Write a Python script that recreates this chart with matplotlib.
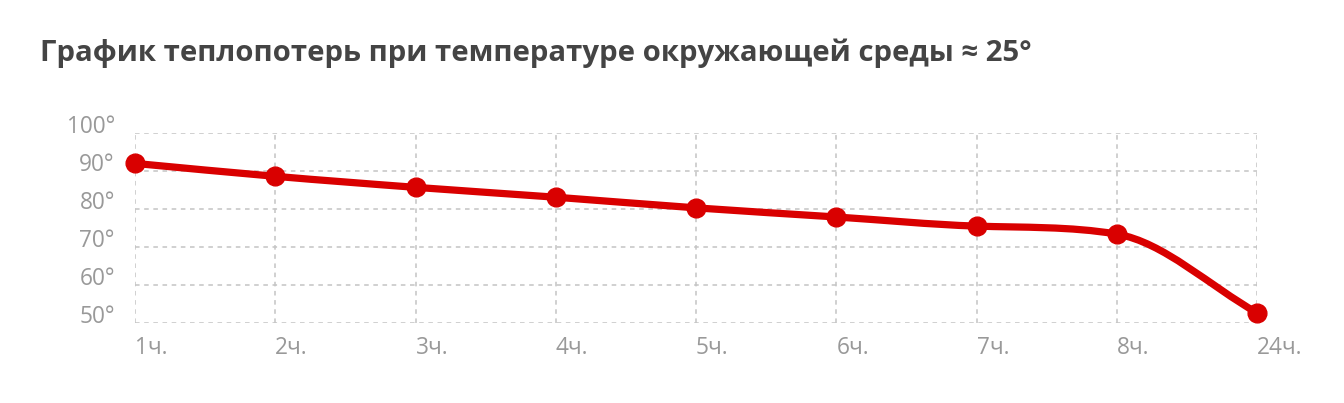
import numpy as np
import matplotlib.pyplot as plt
from matplotlib.path import Path
from matplotlib.patches import PathPatch

# Data
hours = ["1ч.", "2ч.", "3ч.", "4ч.", "5ч.", "6ч.", "7ч.", "8ч.", "24ч."]
temps = [92.0, 88.6, 85.7, 83.1, 80.3, 77.9, 75.5, 73.4, 52.7]
y_ticks = [50, 60, 70, 80, 90, 100]
title = "График теплопотерь при температуре окружающей среды ≈ 25°"

RED = "#d90000"
GRID = "#c4c4c4"
TICK = "#999999"


def monotone_path(ax, xs, ys):
    """Monotone cubic (Fritsch-Carlson) bezier through points, in pixel space"""
    pts = ax.transData.transform(np.column_stack([xs, ys]))
    px, py = pts[:, 0], pts[:, 1]
    n = len(pts)
    dx = np.diff(px)
    delta = np.diff(py) / dx
    m = np.zeros(n)
    m[0], m[-1] = delta[0], delta[-1]
    for i in range(1, n - 1):
        m[i] = 0 if delta[i - 1] * delta[i] <= 0 else (delta[i - 1] + delta[i]) / 2
    for i in range(n - 1):
        if delta[i] == 0:
            m[i] = m[i + 1] = 0
            continue
        a, b = m[i] / delta[i], m[i + 1] / delta[i]
        s = a * a + b * b
        if s > 9:
            t = 3 / np.sqrt(s)
            m[i], m[i + 1] = t * a * delta[i], t * b * delta[i]
    verts = [pts[0]]
    codes = [Path.MOVETO]
    for i in range(n - 1):
        h = dx[i] / 3
        verts += [(px[i] + h, py[i] + m[i] * h), (px[i + 1] - h, py[i + 1] - m[i + 1] * h), pts[i + 1]]
        codes += [Path.CURVE4] * 3
    inv = ax.transData.inverted()
    return Path(inv.transform(np.array(verts)), codes)


plt.rcParams['font.family'] = ['Open Sans', 'DejaVu Sans']

fig = plt.figure(figsize=(13.44, 4.03), dpi=100)
ax = fig.add_axes([135 / 1344, 80 / 403, 1122 / 1344, 190 / 403])

x = np.arange(len(hours))
ax.set_xlim(0, len(hours) - 1)
ax.set_ylim(50, 100)
ax.set_xticks(x)
ax.set_xticklabels(hours)
ax.set_yticks(y_ticks)
ax.set_yticklabels([f"{v}°" for v in y_ticks])

for s in ax.spines.values():
    s.set_visible(False)
ax.grid(True, color=GRID, linestyle=(0, (3, 3)), linewidth=1.1)
ax.tick_params(length=0, colors=TICK, labelsize=16.3, pad=9)
ax.tick_params(axis='y', pad=14.5)
for lab in ax.get_xticklabels():
    lab.set_horizontalalignment('left')
for lab in ax.get_yticklabels():
    lab.set_verticalalignment('baseline')

fig.canvas.draw()
path = monotone_path(ax, x, temps)
ax.add_patch(PathPatch(path, facecolor='none', edgecolor=RED, linewidth=5.2,
                       capstyle='round', joinstyle='round', clip_on=False, zorder=3))
ax.plot(x, temps, 'o', color=RED, markersize=13.5, clip_on=False, zorder=4)

fig.text(40 / 1344, 1 - 53 / 403, title, fontsize=21.2, fontweight='bold',
         color="#444444", va='center', ha='left')

fig.savefig("out.png", dpi=100, facecolor='white')
